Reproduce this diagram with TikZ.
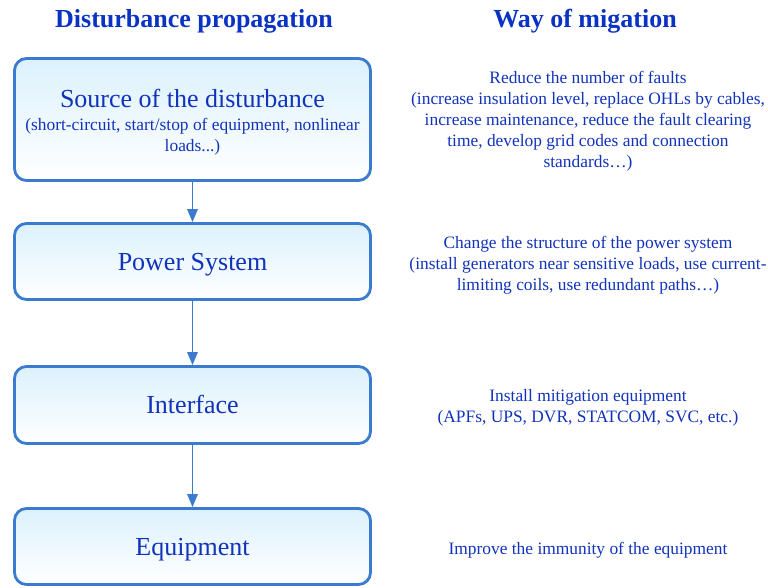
\documentclass[tikz,border=0pt]{standalone}
\usepackage{fontspec}
\setmainfont{Liberation Serif}
\usetikzlibrary{arrows.meta}
\definecolor{bordc}{HTML}{3A7BD0}
\definecolor{txtc}{HTML}{1133BB}
\definecolor{ttlc}{HTML}{0A33C4}
\definecolor{topc}{HTML}{DCF1FD}
\newcommand{\myBigFs}{\fontsize{26}{30}\selectfont}
\newcommand{\mySmallFs}{\fontsize{17.4}{21}\selectfont}
\begin{document}
\begin{tikzpicture}[x=1pt,y=-1pt,
  flowbox/.style={draw=bordc, line width=2.8pt, rounded corners=12pt,
    top color=topc, bottom color=white, minimum width=356pt,
    text=txtc, align=center, inner sep=0pt},
  oneline/.style={font=\myBigFs, text height=17pt, text depth=0pt},
  waytxt/.style={text=txtc, align=center, font=\mySmallFs, inner sep=0pt},
  ttl/.style={text=ttlc, font=\myBigFs\bfseries, inner sep=0pt},
  flowarrow/.style={draw=bordc, line width=1.5pt, -{Triangle[length=13pt,width=10.5pt]}}]
\useasboundingbox (0,0) rectangle (768,587);
\node[ttl] (t1) at (194,21) {Disturbance propagation};
\node[ttl] (t2) at (585,21) {Way of migation};
\node[flowbox, minimum height=122pt, font=\mySmallFs] (b1) at (192.5,119.5)
  {{\myBigFs\rule{0pt}{24pt}Source of the disturbance}\\[2pt]
   (short-circuit, start/stop of equipment, nonlinear\\
   loads...)};
\node[flowbox, oneline, minimum height=76pt] (b2) at (192.5,261.5) {Power System};
\node[flowbox, oneline, minimum height=77pt] (b3) at (192.5,405) {Interface};
\node[flowbox, oneline, minimum height=76pt] (b4) at (192.5,546.5) {Equipment};
\draw[flowarrow] (b1.south) -- (b2.north);
\draw[flowarrow] (b2.south) -- (b3.north);
\draw[flowarrow] (b3.south) -- (b4.north);
\node[waytxt] (w1) at (588,121) {Reduce the number of faults\\
 (increase insulation level, replace OHLs by cables,\\
 increase maintenance, reduce the fault clearing\\
 time, develop grid codes and connection\\
 standards\ldots)};
\node[waytxt] (w2) at (588,265.5) {Change the structure of the power system\\
 (install generators near sensitive loads, use current-\\
 limiting coils, use redundant paths\ldots)};
\node[waytxt] (w3) at (588,407.5) {Install mitigation equipment\\
 (APFs, UPS, DVR, STATCOM, SVC, etc.)};
\node[waytxt] (w4) at (588,550) {Improve the immunity of the equipment};
\end{tikzpicture}
\end{document}
